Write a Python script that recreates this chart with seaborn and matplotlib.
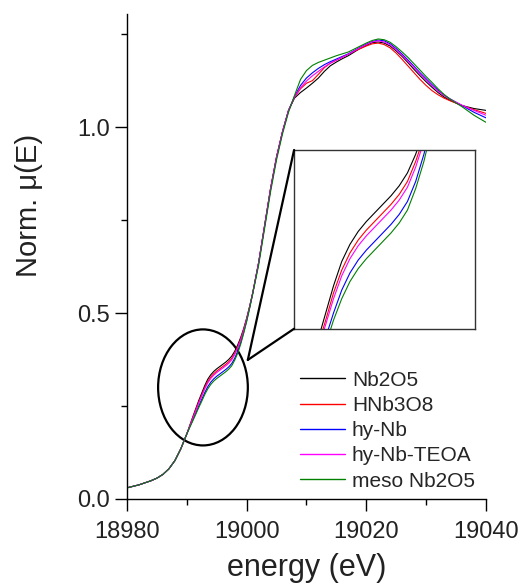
import numpy as np
import pandas as pd
import matplotlib
matplotlib.use("Agg")
import matplotlib.pyplot as plt
import seaborn as sns
from matplotlib.patches import Ellipse, ConnectionPatch
from matplotlib.lines import Line2D
from matplotlib.ticker import MultipleLocator, FormatStrFormatter

# ---------------- data ----------------
energy = [18980, 18982, 18984, 18985, 18986, 18987, 18988, 18989, 18990,
          18990.5, 18991, 18991.5, 18992, 18992.5, 18993, 18993.5, 18994,
          18994.5, 18995, 18995.5, 18996, 18996.5, 18997, 18997.5, 18998,
          18998.5, 18999, 18999.5, 19000, 19000.5, 19001,
          19002, 19003, 19004, 19005, 19006, 19007, 19008, 19009, 19010,
          19011, 19012, 19013, 19014, 19015, 19016, 19017, 19018, 19019,
          19020, 19021, 19022, 19023, 19024, 19025, 19026, 19027, 19028,
          19029, 19030, 19031, 19032, 19033, 19034, 19036, 19038, 19040]

mu_nb2o5 = [0.030, 0.038, 0.049, 0.056, 0.066, 0.081, 0.103, 0.135, 0.175,
            0.198, 0.221, 0.243, 0.265, 0.285, 0.305, 0.322, 0.334,
            0.343, 0.350, 0.356, 0.362, 0.368, 0.375, 0.384, 0.397,
            0.414, 0.434, 0.458, 0.486, 0.518, 0.553,
            0.635, 0.735, 0.835, 0.920, 0.988, 1.045, 1.078, 1.093, 1.105,
            1.118, 1.132, 1.150, 1.165, 1.175, 1.184, 1.192, 1.202, 1.212,
            1.220, 1.227, 1.229, 1.226, 1.218, 1.205, 1.190, 1.173, 1.155,
            1.138, 1.122, 1.107, 1.093, 1.081, 1.072, 1.058, 1.050, 1.045]

mu_hnb3o8 = [0.030, 0.038, 0.049, 0.056, 0.066, 0.081, 0.103, 0.135, 0.175,
             0.197, 0.218, 0.240, 0.261, 0.280, 0.300, 0.316, 0.328,
             0.337, 0.344, 0.350, 0.356, 0.362, 0.369, 0.378, 0.392,
             0.409, 0.430, 0.455, 0.484, 0.517, 0.553,
             0.635, 0.735, 0.835, 0.920, 0.988, 1.045, 1.080, 1.103, 1.118,
             1.125, 1.142, 1.160, 1.172, 1.180, 1.188, 1.196, 1.204, 1.211,
             1.218, 1.224, 1.226, 1.222, 1.213, 1.199, 1.182, 1.164, 1.146,
             1.128, 1.112, 1.098, 1.087, 1.078, 1.071, 1.058, 1.047, 1.037]

mu_hynb = [0.030, 0.038, 0.049, 0.056, 0.066, 0.081, 0.103, 0.135, 0.175,
           0.194, 0.213, 0.231, 0.250, 0.268, 0.286, 0.302, 0.314,
           0.323, 0.330, 0.336, 0.342, 0.348, 0.355, 0.364, 0.378,
           0.397, 0.420, 0.448, 0.479, 0.514, 0.551,
           0.634, 0.733, 0.832, 0.918, 0.987, 1.044, 1.082, 1.112, 1.132,
           1.146, 1.158, 1.168, 1.176, 1.183, 1.190, 1.197, 1.206, 1.215,
           1.223, 1.230, 1.234, 1.232, 1.224, 1.211, 1.196, 1.180, 1.163,
           1.146, 1.130, 1.114, 1.099, 1.086, 1.076, 1.058, 1.040, 1.025]

mu_hynb_teoa = [0.030, 0.038, 0.049, 0.056, 0.066, 0.081, 0.103, 0.135, 0.175,
                0.196, 0.217, 0.237, 0.258, 0.277, 0.296, 0.312, 0.324,
                0.333, 0.340, 0.346, 0.352, 0.358, 0.365, 0.374, 0.388,
                0.406, 0.427, 0.453, 0.483, 0.516, 0.552,
                0.635, 0.734, 0.834, 0.919, 0.988, 1.045, 1.081, 1.106, 1.124,
                1.138, 1.150, 1.162, 1.172, 1.180, 1.188, 1.196, 1.205, 1.214,
                1.222, 1.229, 1.232, 1.229, 1.221, 1.208, 1.193, 1.177, 1.160,
                1.143, 1.127, 1.111, 1.097, 1.085, 1.075, 1.059, 1.045, 1.032]

mu_meso = [0.030, 0.038, 0.049, 0.056, 0.066, 0.081, 0.103, 0.135, 0.175,
           0.193, 0.210, 0.228, 0.246, 0.263, 0.281, 0.296, 0.308,
           0.317, 0.324, 0.330, 0.336, 0.342, 0.349, 0.358, 0.373,
           0.392, 0.416, 0.445, 0.477, 0.513, 0.551,
           0.628, 0.727, 0.826, 0.912, 0.982, 1.040, 1.085, 1.128, 1.152,
           1.166, 1.174, 1.180, 1.186, 1.192, 1.197, 1.202, 1.210, 1.218,
           1.226, 1.233, 1.237, 1.235, 1.228, 1.216, 1.202, 1.187, 1.170,
           1.153, 1.136, 1.120, 1.103, 1.088, 1.075, 1.055, 1.032, 1.013]

samples = ["Nb2O5", "HNb3O8", "hy-Nb", "hy-Nb-TEOA", "meso Nb2O5"]
series = [mu_nb2o5, mu_hnb3o8, mu_hynb, mu_hynb_teoa, mu_meso]
colors = ["#000000", "#ff0000", "#0000ff", "#ff00ff", "#008000"]

x_ticks = [18980, 19000, 19020, 19040]
y_ticks = [0.0, 0.5, 1.0]

# ---------------- build table ----------------
df = pd.concat([pd.DataFrame({"energy": energy, "mu": s, "sample": n})
                for n, s in zip(samples, series)], ignore_index=True)
palette = dict(zip(samples, colors))

sns.set_style("ticks")
plt.rcParams["font.family"] = ["Liberation Sans", "DejaVu Sans"]

fig = plt.figure(figsize=(5.27, 5.86), dpi=100)
ax = fig.add_axes([0.241, 0.1485, 0.681, 0.8275])

sns.lineplot(data=df, x="energy", y="mu", hue="sample", hue_order=samples,
             palette=palette, estimator=None, sort=False, linewidth=0.8,
             legend=False, ax=ax)

ax.set_xlim(18980, 19040)
ax.set_ylim(0, 1.304)
ax.set_xticks(x_ticks)
ax.set_yticks(y_ticks)
ax.yaxis.set_major_formatter(FormatStrFormatter("%.1f"))
ax.xaxis.set_minor_locator(MultipleLocator(10))
ax.yaxis.set_minor_locator(MultipleLocator(0.25))
ax.tick_params(which="major", length=8.5, width=1.0, labelsize=17,
               direction="out", color="black", labelcolor="#222222")
ax.tick_params(axis="x", which="major", pad=7)
ax.tick_params(which="minor", length=4.5, width=1.0, direction="out",
               color="black")
for sp in ["top", "right"]:
    ax.spines[sp].set_visible(False)
for sp in ["left", "bottom"]:
    ax.spines[sp].set_linewidth(1.0)
    ax.spines[sp].set_color("black")

ax.set_xlabel("energy (eV)", fontsize=22, color="#222222")
ax.set_ylabel("Norm. \u03bc(E)", fontsize=21, color="#222222")
ax.xaxis.set_label_coords(0.5, -0.112)
ax.yaxis.set_label_coords(-0.234, 0.606)

handles = [Line2D([], [], color=c, linewidth=1.0) for c in colors]
ax.legend(handles, samples, loc="upper left", frameon=False, fontsize=15,
          handlelength=2.15, handletextpad=0.35, labelspacing=0.30,
          borderpad=0.4, bbox_to_anchor=(0.458, 0.282), borderaxespad=0.0)

# ellipse marking the zoomed region
ell = Ellipse((18992.7, 0.300), width=15.0, height=0.312, fill=False,
              edgecolor="black", linewidth=1.6)
ax.add_patch(ell)

# inset
ins = fig.add_axes([0.558, 0.439, 0.343, 0.305])
sns.lineplot(data=df, x="energy", y="mu", hue="sample", hue_order=samples,
             palette=palette, estimator=None, sort=False, linewidth=0.8,
             legend=False, ax=ins)
ins.set_xlim(18990.6, 19001.6)
ins.set_ylim(0.275, 0.40)
ins.set_xticks([])
ins.set_yticks([])
ins.set_xlabel("")
ins.set_ylabel("")
for sp in ins.spines.values():
    sp.set_visible(True)
    sp.set_linewidth(1.0)
    sp.set_color("#333333")

for corner in [(0, 1), (0, 0)]:
    cp = ConnectionPatch(xyA=(19000.2, 0.374), coordsA=ax.transData,
                         xyB=corner, coordsB=ins.transAxes,
                         color="black", linewidth=1.6)
    fig.add_artist(cp)

fig.savefig("out.png", dpi=100)
